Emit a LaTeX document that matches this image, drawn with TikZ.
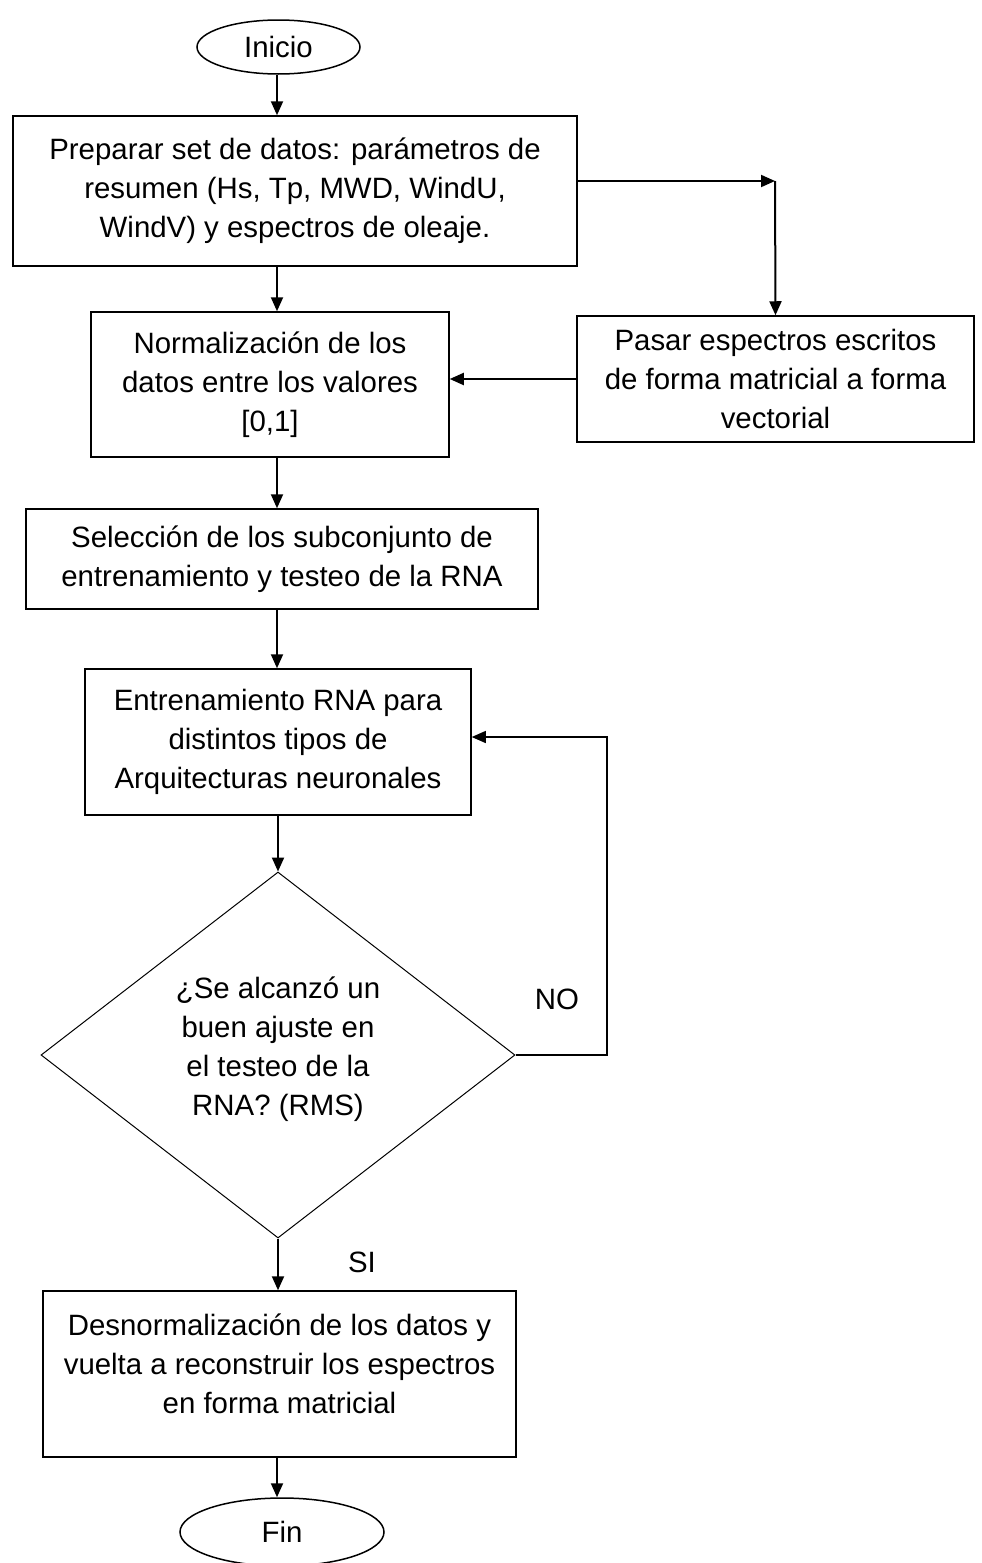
\documentclass[tikz,border=0pt]{standalone}
\usepackage{fontspec}
\setmainfont{Liberation Sans}
\usetikzlibrary{arrows.meta,positioning,shapes.geometric}
\newcommand{\textoflujo}{\fontsize{14.7}{19.5}\selectfont}
\tikzset{
  caja/.style={draw=black, rectangle, line width=0.75pt, align=center,
    inner sep=2pt, font=\textoflujo},
  terminal/.style={draw=black, ellipse, line width=0.75pt, inner sep=0pt,
    font=\textoflujo},
  decision/.style={draw=black, diamond, aspect=1.3, line width=0.5pt,
    inner sep=0pt, align=center, font=\textoflujo},
  flecha/.style={-{Triangle[length=7pt,width=6pt]}, line width=1pt},
  retorno/.style={-{Triangle[length=7pt,width=6pt]}, line width=0.65pt},
  etiqueta/.style={font=\textoflujo},
}
\begin{document}
\begin{tikzpicture}[x=0.5pt,y=-0.5pt]
  \useasboundingbox (0,0) rectangle (981,1563);
  % main column
  \node[terminal, minimum width=81.5pt, minimum height=27pt] (inicio) at (278.5,47) {Inicio};
  \node[caja, minimum width=282pt, minimum height=75pt] (preparar) at (295,191)
    {Preparar set de datos: parámetros de\\resumen (Hs, Tp, MWD, WindU,\\WindV) y espectros de oleaje.};
  \node[caja, minimum width=179pt, minimum height=72.5pt] (normal) at (270,384.5)
    {Normalización de los\\datos entre los valores\\{[0,1]}};
  \node[caja, minimum width=198.5pt, minimum height=63pt] (pasar) at (775.5,379)
    {Pasar espectros escritos\\de forma matricial a forma\\vectorial};
  \node[caja, minimum width=256pt, minimum height=50pt] (seleccion) at (282,559)
    {Selección de los subconjunto de\\entrenamiento y testeo de la RNA};
  \node[caja, minimum width=193pt, minimum height=73pt] (entrena) at (278,742)
    {Entrenamiento RNA para\\distintos tipos de\\Arquitecturas neuronales};
  \node[decision, minimum width=237pt, minimum height=183pt] (ajuste) at (278,1055)
    {¿Se alcanzó un\\buen ajuste en\\el testeo de la\\RNA? (RMS)\\[-11pt]\mbox{}};
  \node[caja, minimum width=236.5pt, minimum height=83pt] (desnorm) at (279.5,1374)
    {Desnormalización de los datos y\\vuelta a reconstruir los espectros\\en forma matricial\\[-9pt]\mbox{}};
  \node[terminal, minimum width=102pt, minimum height=34pt] (fin) at (282,1532) {Fin};
  \node[etiqueta] (no) at (557,999) {NO};
  \node[etiqueta] (si) at (362,1262) {SI};
  % corners of the side paths
  \coordinate (esquina) at (775,181);
  \coordinate (lazo) at (607,737);
  % connectors
  \draw[flecha] (inicio.south -| 277,0) -- (preparar.north -| 277,0);
  \draw[flecha] (preparar.south -| 277,0) -- (normal.north -| 277,0);
  \draw[flecha] (preparar.east |- esquina) -- (esquina);
  \draw[flecha] (esquina) -- (pasar.north);
  \draw[flecha] (pasar.west) -- (pasar.west -| normal.east);
  \draw[flecha] (normal.south -| 277,0) -- (seleccion.north -| 277,0);
  \draw[flecha] (seleccion.south -| 277,0) -- (entrena.north -| 277,0);
  \draw[flecha] (entrena.south) -- (ajuste.north);
  \draw[retorno] (ajuste.east) -| (lazo) -- (lazo -| entrena.east);
  \draw[flecha] (ajuste.south) -- (desnorm.north -| ajuste.south);
  \draw[flecha] (desnorm.south -| 277,0) -- (fin.north -| 277,0);
\end{tikzpicture}
\end{document}
